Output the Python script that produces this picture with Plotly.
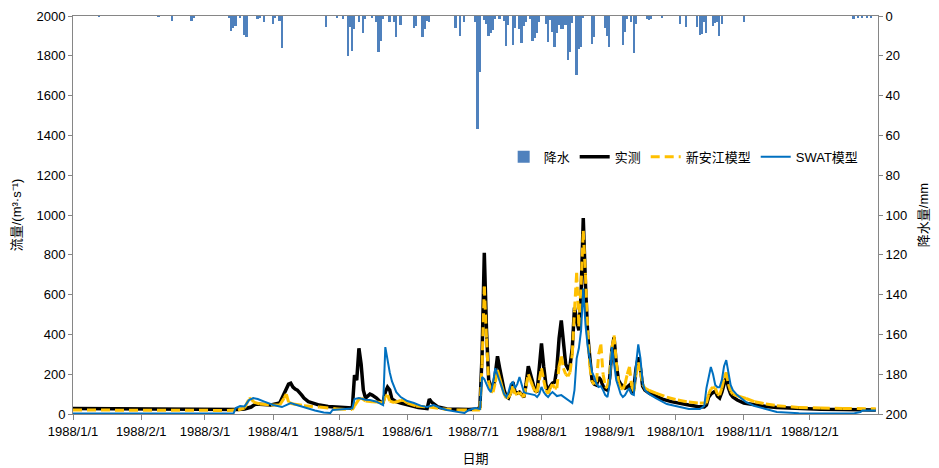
import plotly.graph_objects as go
import pandas as pd

START = pd.Timestamp("1988-01-01")

# 日降水 (day of year offset, mm)
rain_day = [12, 39, 45, 54, 55, 71, 72, 73, 74, 76, 78, 79, 84, 85, 87, 91, 92, 94, 95,
            115, 120, 123, 125, 126, 127, 128, 130, 132, 133, 136, 138, 139, 140, 141,
            144, 146, 147, 149, 155, 156, 159, 160, 161, 162, 174, 176, 178, 183, 184,
            185, 187, 188, 189, 190, 191, 192, 194, 196, 197, 198, 200, 201, 203, 204,
            205, 206, 208, 209, 210, 211, 212, 215, 216, 217, 218, 219, 220, 221, 222,
            223, 224, 225, 226, 227, 229, 230, 231, 232, 236, 237, 242, 243, 244, 250,
            251, 252, 254, 255, 256, 261, 262, 263, 268, 276, 279, 284, 285, 286, 287,
            288, 291, 292, 293, 294, 295, 305, 355, 357, 359, 361, 363]
rain_mm = [0.5, 0.5, 2.4, 2.4, 1.2, 1.0, 7.4, 6.2, 5.0, 1.0, 9.5, 10.7, 1.7, 1.0, 3.2, 4.2, 1.0, 2.4, 15.9,
           5.4, 1.0, 1.5, 20.1, 5.7, 17.8, 6.5, 2.8, 8.7, 1.7, 1.0, 2.8, 17.9, 12.4, 1.5,
           2.8, 3.2, 10.7, 4.7, 5.9, 4.9, 10.4, 6.7, 2.5, 3.2, 6.2, 9.9, 3.2, 2.8, 56.8,
           28.0, 2.0, 4.2, 10.0, 8.7, 7.0, 1.7, 1.5, 2.4, 15.1, 4.5, 14.6, 6.2, 6.7, 13.7,
           4.9, 3.2, 1.5, 12.4, 11.2, 8.7, 2.8, 4.0, 12.9, 2.0, 7.9, 15.7, 8.7, 4.5, 6.5,
           6.5, 4.5, 22.1, 17.9, 3.7, 29.6, 16.8, 15.7, 1.0, 14.1, 10.4, 6.2, 10.0, 15.4, 14.6,
           7.9, 1.5, 2.8, 18.8, 4.0, 1.7, 2.0, 1.5, 1.0, 4.0, 5.7, 5.4, 9.5, 9.0, 3.2,
           8.7, 4.9, 3.7, 2.8, 10.0, 4.0, 2.8, 1.5, 1.0, 1.0, 1.0, 1.0]

# 实测流量
obs_day = [0, 20, 45, 70, 75, 78, 81, 83, 86, 90, 94, 96, 98, 99, 100, 101, 102, 104, 105,
           107, 110, 112, 116, 120, 124, 127, 128, 129, 130, 131, 132, 133, 135, 136, 138,
           140, 141, 142, 143, 144, 145, 147, 149, 152, 157, 161, 162, 163, 164, 166, 170,
           175, 180, 184, 185, 186, 187, 188, 189, 190, 191, 192, 193, 194, 195, 196, 197,
           198, 199, 200, 201, 202, 203, 204, 205, 206, 207, 208, 209, 210, 211, 212, 213,
           214, 215, 216, 217, 218, 219, 220, 221, 222, 223, 224, 225, 226, 227, 228, 229,
           230, 231, 232, 233, 234, 235, 236, 237, 238, 239, 240, 241, 242, 243, 244, 245,
           246, 247, 248, 249, 250, 251, 252, 253, 254, 255, 256, 257, 258, 259, 260, 262,
           265, 268, 272, 276, 280, 284, 287, 288, 289, 290, 291, 292, 293, 294, 295, 296,
           297, 298, 299, 300, 302, 305, 310, 315, 320, 330, 340, 350, 365]
obs_q = [28, 26, 24, 22, 22, 25, 35, 50, 48, 45, 55, 100, 150, 155, 135, 125, 120, 95, 80,
         62, 50, 45, 38, 35, 32, 30, 195, 170, 330, 250, 120, 80, 100, 95, 80,
         58, 60, 110, 135, 120, 75, 62, 55, 45, 32, 27, 75, 60, 50, 35, 25,
         22, 22, 25, 35, 300, 810, 420, 170, 140, 130, 200, 290, 230, 170, 120, 88,
         80, 110, 160, 110, 105, 110, 100, 85, 150, 240, 200, 160, 120, 110, 220, 355,
         240, 150, 110, 140, 155, 160, 230, 380, 470, 350, 250, 230, 245, 330, 535, 470,
         420, 600, 985, 650, 400, 280, 170, 150, 145, 185, 170, 140, 125, 120, 180, 320,
         385, 250, 170, 150, 140, 130, 135, 145, 105, 130, 230, 285, 230, 140, 120, 105,
         90, 75, 62, 52, 45, 38, 35, 45, 85, 100, 110, 115, 90, 80, 110, 160,
         190, 130, 100, 85, 70, 55, 45, 38, 33, 27, 24, 22, 20]

# 新安江模型
xaj_day = [0, 70, 75, 78, 80, 81, 82, 85, 90, 94, 96, 97, 98, 100, 105, 112, 120, 127, 128,
           130, 131, 133, 136, 138, 141, 142, 143, 144, 146, 149, 150, 152, 156, 162, 168,
           175, 185, 186, 187, 188, 189, 190, 191, 192, 193, 194, 195, 196, 197, 198, 199,
           200, 201, 202, 203, 204, 205, 206, 207, 208, 209, 210, 211, 212, 213, 214, 215,
           216, 217, 218, 219, 220, 221, 222, 223, 224, 225, 226, 227, 228, 229, 230, 231,
           232, 233, 234, 235, 236, 237, 238, 239, 240, 241, 242, 243, 244, 245, 246, 247,
           248, 249, 250, 251, 252, 253, 254, 255, 256, 257, 258, 259, 260, 262, 265, 270,
           275, 280, 285, 288, 289, 290, 291, 292, 293, 294, 295, 296, 297, 298, 299, 300,
           303, 306, 310, 315, 320, 330, 340, 350, 365]
xaj_q = [20, 18, 20, 30, 75, 80, 60, 50, 45, 45, 80, 100, 60, 50, 42, 35, 25, 22, 40,
         75, 80, 65, 62, 60, 55, 90, 95, 65, 58, 68, 70, 55, 40, 35, 25,
         20, 20, 250, 640, 380, 160, 115, 110, 160, 220, 180, 140, 100, 80, 85, 100,
         140, 100, 100, 110, 95, 85, 140, 200, 170, 140, 115, 110, 170, 230, 170, 120,
         100, 130, 150, 130, 130, 240, 290, 230, 200, 190, 210, 300, 520, 710, 440, 650,
         920, 700, 420, 240, 160, 150, 160, 300, 350, 200, 140, 130, 200, 330, 395, 260,
         160, 130, 125, 150, 200, 237, 140, 115, 200, 260, 210, 150, 130, 118, 105, 85,
         70, 60, 55, 55, 100, 125, 135, 130, 100, 95, 130, 180, 210, 150, 115, 100,
         88, 78, 62, 50, 42, 33, 30, 28, 26]

# SWAT模型
swat_day = [0, 70, 73, 74, 76, 78, 80, 82, 84, 87, 91, 95, 97, 99, 101, 104, 106, 110, 114,
            117, 118, 122, 127, 128, 130, 133, 135, 138, 141, 142, 143, 144, 145, 147, 149,
            152, 155, 158, 161, 163, 164, 167, 170, 174, 178, 180, 183, 185, 186, 187, 188,
            189, 190, 191, 192, 193, 194, 195, 196, 197, 198, 199, 200, 201, 202, 203, 204,
            205, 206, 208, 210, 211, 212, 213, 214, 215, 216, 217, 218, 219, 220, 222, 224,
            226, 227, 228, 229, 230, 231, 232, 233, 234, 235, 236, 237, 238, 239, 240, 241,
            242, 243, 244, 245, 246, 247, 248, 249, 250, 251, 252, 253, 254, 255, 256, 257,
            258, 259, 260, 262, 265, 270, 275, 280, 285, 287, 288, 289, 290, 291, 292, 293,
            294, 295, 296, 297, 298, 299, 300, 302, 306, 310, 315, 320, 330, 355, 358, 359, 365]
swat_q = [3, 2, 3, 30, 40, 38, 70, 80, 75, 62, 45, 35, 45, 55, 48, 38, 30, 18, 8,
          5, 20, 25, 28, 75, 80, 72, 70, 62, 45, 336, 260, 210, 165, 110, 85,
          65, 55, 42, 35, 40, 45, 30, 20, 12, 5, 20, 30, 25, 186, 175, 150,
          125, 110, 160, 230, 200, 160, 136, 100, 85, 110, 150, 160, 130, 150, 186, 150,
          110, 105, 100, 95, 85, 100, 136, 110, 95, 85, 100, 110, 100, 90, 95, 80,
          65, 55, 120, 280, 330, 420, 630, 450, 340, 280, 210, 186, 150, 136, 140, 120,
          95, 85, 150, 337, 250, 170, 136, 100, 85, 95, 115, 130, 100, 95, 250, 350,
          280, 155, 120, 100, 80, 50, 38, 25, 25, 40, 130, 180, 236, 200, 146, 135,
          135, 170, 240, 271, 200, 146, 120, 95, 60, 40, 25, 10, 4, 3, 10, 18, 18]


def to_dates(days):
    return [START + pd.Timedelta(days=d) for d in days]


def split_segments(days, vals):
    # 每段单独成子路径, 让虚线在每段重新开始 (与Excel效果相近)
    xs, ys = [], []
    dates = to_dates(days)
    for i in range(len(dates) - 1):
        xs += [dates[i], dates[i + 1], None]
        ys += [vals[i], vals[i + 1], None]
    return xs, ys


fig = go.Figure()

fig.add_trace(go.Bar(
    x=to_dates(rain_day), y=rain_mm, name='降水', yaxis='y2',
    marker=dict(color='#4F81BD', line=dict(width=0)),
    width=86400000 * 0.75
))

fig.add_trace(go.Scatter(
    x=to_dates(obs_day), y=obs_q, name='实测', mode='lines',
    line=dict(color='black', width=3.5)
))

xaj_x, xaj_y = split_segments(xaj_day, xaj_q)
fig.add_trace(go.Scatter(
    x=xaj_x, y=xaj_y, name='新安江模型', mode='lines', connectgaps=False,
    line=dict(color='#FFC000', width=3, dash='9px,5px')
))

fig.add_trace(go.Scatter(
    x=to_dates(swat_day), y=swat_q, name='SWAT模型', mode='lines',
    line=dict(color='#0070C0', width=2)
))

month_ticks = pd.date_range('1988-01-01', periods=12, freq='MS')

# 页面body自带8px边距, 图尺寸相应缩小
fig.update_layout(
    width=931, height=460,
    margin=dict(l=65, r=61, t=8, b=54),
    paper_bgcolor='white', plot_bgcolor='white',
    font=dict(family='Liberation Sans, Noto Sans CJK SC', size=13, color='black'),
    bargap=0,
    xaxis=dict(
        type='date', range=['1988-01-01', '1989-01-01'], automargin=False,
        tickvals=month_ticks, tickformat='%Y/%-m/%-d',
        ticks='outside', ticklen=5, tickcolor='#868686',
        showline=True, linecolor='#868686', linewidth=1, mirror=True,
        showgrid=False, zeroline=False,
        title=dict(text='日期', standoff=16, font=dict(size=13))
    ),
    yaxis=dict(
        range=[0, 2000], dtick=200, automargin=False,
        ticks='outside', ticklen=4, tickcolor='#868686',
        showline=True, linecolor='#868686', linewidth=1,
        showgrid=False, zeroline=False,
        title=dict(text='流量/(m³·s⁻¹)', standoff=11, font=dict(size=13))
    ),
    yaxis2=dict(
        overlaying='y', side='right', range=[200, 0], dtick=20, automargin=False,
        ticks='outside', ticklen=4, tickcolor='#868686',
        showline=True, linecolor='#868686', linewidth=1,
        showgrid=False, zeroline=False,
        title=dict(text='降水量/mm', standoff=12, font=dict(size=13))
    ),
    legend=dict(
        orientation='h', x=0.535, y=0.646, xanchor='left', yanchor='middle',
        bgcolor='rgba(0,0,0,0)', font=dict(size=13), traceorder='normal',
        itemwidth=30
    ),
    showlegend=True
)

fig.write_html("out.html")
